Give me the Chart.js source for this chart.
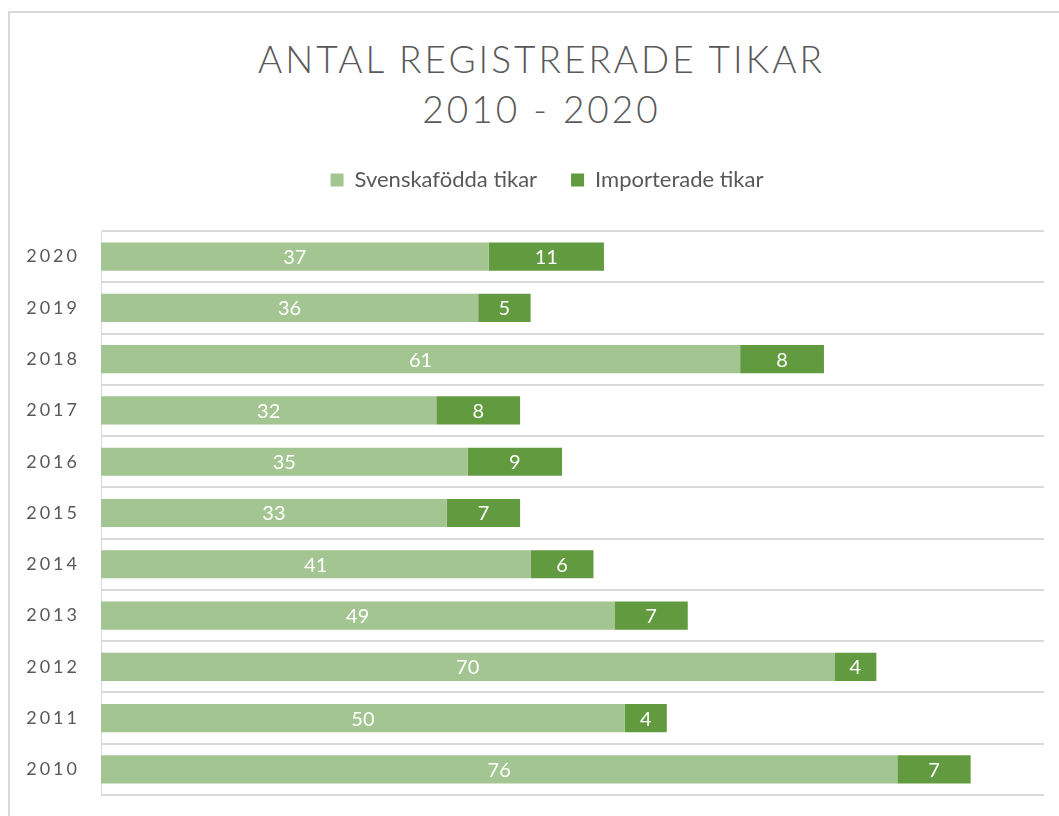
<!DOCTYPE html>
<html>
<head>
<meta charset="utf-8">
<script src="https://cdn.jsdelivr.net/npm/chart.js@4/dist/chart.umd.min.js"></script>
<style>
  body { margin: 0; background: #fff; }
  #wrap { position: relative; width: 1059px; height: 816px; overflow: hidden; }
  #frame { position: absolute; left: 8px; top: 11px; width: 1200px; height: 900px;
           border-left: 2px solid #d9d9d9; border-top: 2px solid #d9d9d9; }
  #title { position: absolute; left: 0; top: 34px; width: 1083px; text-align: center;
           font-family: Lato, sans-serif; font-weight: 300; font-size: 37px; line-height: 50px;
           letter-spacing: 3px; color: #595959; }
  canvas { position: absolute; left: 0; top: 0; }
</style>
</head>
<body>
<div id="wrap">
  <div id="frame"></div>
  <div id="title">ANTAL REGISTRERADE TIKAR<br>2010 - 2020</div>
  <canvas id="myChart" width="1059" height="816"></canvas>
</div>
<script>
// Data
var years = ['2020', '2019', '2018', '2017', '2016', '2015', '2014', '2013', '2012', '2011', '2010'];
var svenskafodda = [37, 36, 61, 32, 35, 33, 41, 49, 70, 50, 76];
var importerade = [11, 5, 8, 8, 9, 7, 6, 7, 4, 4, 7];

var textColor = '#595959';
var gridColor = '#d9d9d9';

// extra space under the legend
var legendMargin = {
    id: 'legendMargin',
    beforeInit: function (chart) {
        var fit = chart.legend.fit;
        chart.legend.fit = function () {
            fit.bind(chart.legend)();
            this.height += 30;
        };
    }
};

// value labels inside the bars, then letter spacing for the year ticks
var barLabels = {
    id: 'barLabels',
    afterDatasetsDraw: function (chart) {
        var ctx = chart.ctx;
        ctx.save();
        ctx.font = '20px Lato, sans-serif';
        ctx.fillStyle = '#ffffff';
        ctx.textAlign = 'center';
        ctx.textBaseline = 'middle';
        chart.data.datasets.forEach(function (ds, i) {
            chart.getDatasetMeta(i).data.forEach(function (bar, j) {
                ctx.fillText(ds.data[j], (bar.x + bar.base) / 2, bar.y + 1);
            });
        });
        ctx.restore();
        ctx.letterSpacing = '3px';
    },
    afterDraw: function (chart) {
        chart.ctx.letterSpacing = '0px';
    }
};

var config = {
    type: 'bar',
    data: {
        labels: years,
        datasets: [{
            label: 'Svenskafödda tikar',
            data: svenskafodda,
            backgroundColor: '#a3c591'
        }, {
            label: 'Importerade tikar',
            data: importerade,
            backgroundColor: '#629b3f'
        }]
    },
    options: {
        responsive: false,
        animation: false,
        indexAxis: 'y',
        barPercentage: 0.55,
        categoryPercentage: 1,
        layout: { padding: { top: 135, left: 50, right: 15, bottom: 21 } },
        scales: {
            x: {
                stacked: true,
                min: 0,
                max: 90,
                display: false
            },
            y: {
                stacked: true,
                afterFit: function (scale) {
                    scale.width = 51;
                    scale.paddingTop = 0;
                    scale.paddingBottom = 0;
                    // let the year labels run left of the scale box
                    scale._computeLabelArea = function () {};
                },
                grid: { color: gridColor, lineWidth: 2, drawTicks: false },
                border: { color: gridColor, width: 1 },
                ticks: {
                    z: 1,
                    padding: 21,
                    color: textColor,
                    font: { family: 'Lato, sans-serif', size: 18 }
                }
            }
        },
        plugins: {
            legend: {
                position: 'top',
                labels: {
                    boxWidth: 13,
                    boxHeight: 13,
                    padding: 34,
                    color: textColor,
                    font: { family: 'Lato, sans-serif', size: 22 }
                }
            },
            tooltip: { enabled: false }
        }
    },
    plugins: [legendMargin, barLabels]
};

var ctx = document.getElementById('myChart').getContext('2d');
new Chart(ctx, config);
</script>
</body>
</html>
